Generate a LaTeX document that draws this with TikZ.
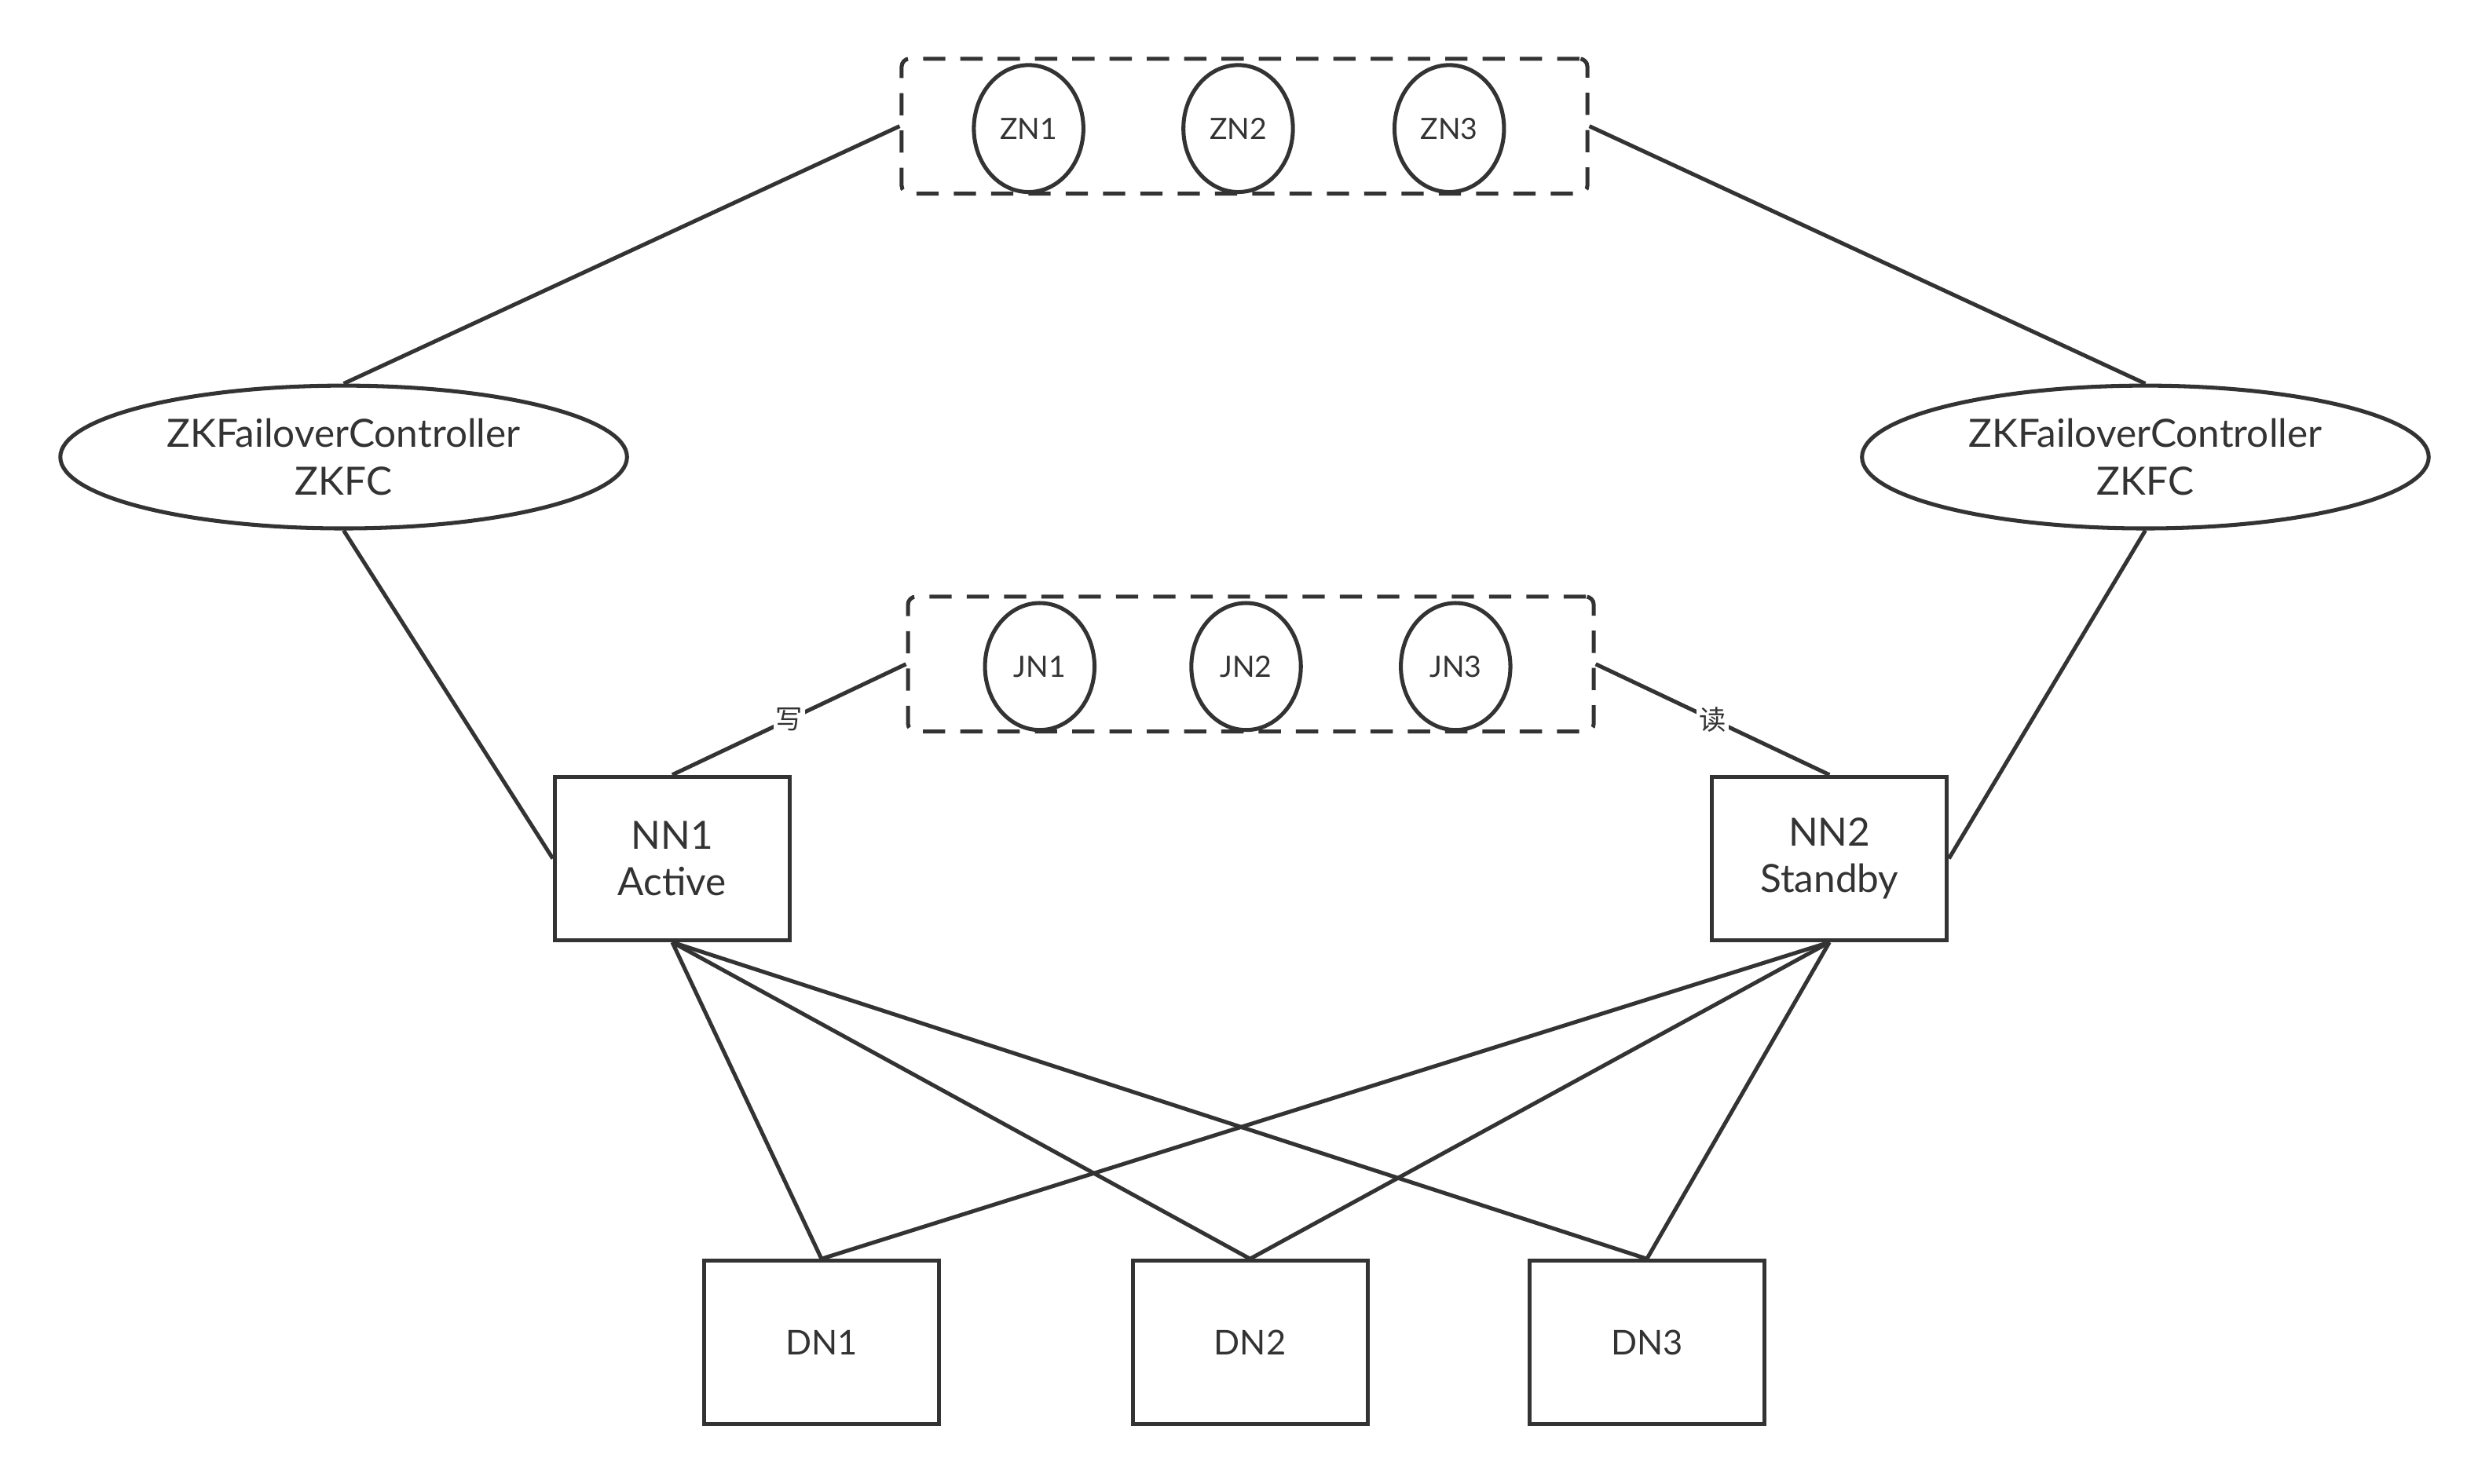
\documentclass[tikz,border=0pt]{standalone}
\usepackage{fontspec}
\setmainfont{Lato}
\newfontfamily\cjk{Noto Sans CJK SC}
\usetikzlibrary{shapes.geometric}
\definecolor{ink}{HTML}{333333}
\begin{document}
\begin{tikzpicture}[x=1pt,y=-1pt,
  every path/.style={line width=2.5pt},
  base/.style={draw=ink,text=ink,line width=2.5pt,inner sep=0pt},
  grp/.style={base,rectangle,rounded corners=5pt,dashed,dash pattern=on 14pt off 9.5pt,minimum width=432pt,minimum height=85pt},
  small/.style={base,ellipse,minimum width=69pt,minimum height=80pt,font=\fontsize{18.5}{20}\selectfont},
  zkfc/.style={base,ellipse,minimum width=357pt,minimum height=90pt,align=center,font=\fontsize{24.5}{30}\selectfont},
  nn/.style={base,rectangle,minimum width=148pt,minimum height=103pt,align=center,font=\fontsize{24.5}{29}\selectfont},
  dn/.style={base,rectangle,minimum width=148pt,minimum height=103pt,font=\fontsize{21.5}{24}\selectfont},
  link/.style={draw=ink,line width=2.5pt},
  lbl/.style={fill=white,text=ink,inner sep=1.5pt,font=\cjk\fontsize{17}{18}\selectfont}
]
\useasboundingbox[fill=white] (0,0) rectangle (1568,935);

\node[grp] (zk) at (784,79.5) {};
\node[small] (zn1) at (648,81) {ZN1};
\node[small] (zn2) at (780,81) {ZN2};
\node[small] (zn3) at (913,81) {ZN3};

\node[grp] (jn) at (788,418.5) {};
\node[small] (jn1) at (655,420) {JN1};
\node[small] (jn2) at (785,420) {JN2};
\node[small] (jn3) at (917,420) {JN3};

\node[zkfc] (zl) at (216.5,288) {ZKFailoverController\\ZKFC};
\node[zkfc] (zr) at (1351.5,288) {ZKFailoverController\\ZKFC};

\node[nn] (nn1) at (423.5,541) {NN1\\Active};
\node[nn] (nn2) at (1152.5,541) {NN2\\Standby};

\node[dn] (dn1) at (517.5,846) {DN1};
\node[dn] (dn2) at (787.5,846) {DN2};
\node[dn] (dn3) at (1037.5,846) {DN3};

\draw[link] (zk.west) -- (zl.north);
\draw[link] (zk.east) -- (zr.north);
\draw[link] (zl.south) -- (nn1.west);
\draw[link] (zr.south) -- (nn2.east);
\draw[link] (jn.west) -- node[lbl] {写} (nn1.north);
\draw[link] (jn.east) -- node[lbl] {读} (nn2.north);
\foreach \d in {dn1,dn2,dn3}{
  \draw[link] (nn1.south) -- (\d.north);
  \draw[link] (nn2.south) -- (\d.north);
}
\end{tikzpicture}
\end{document}
